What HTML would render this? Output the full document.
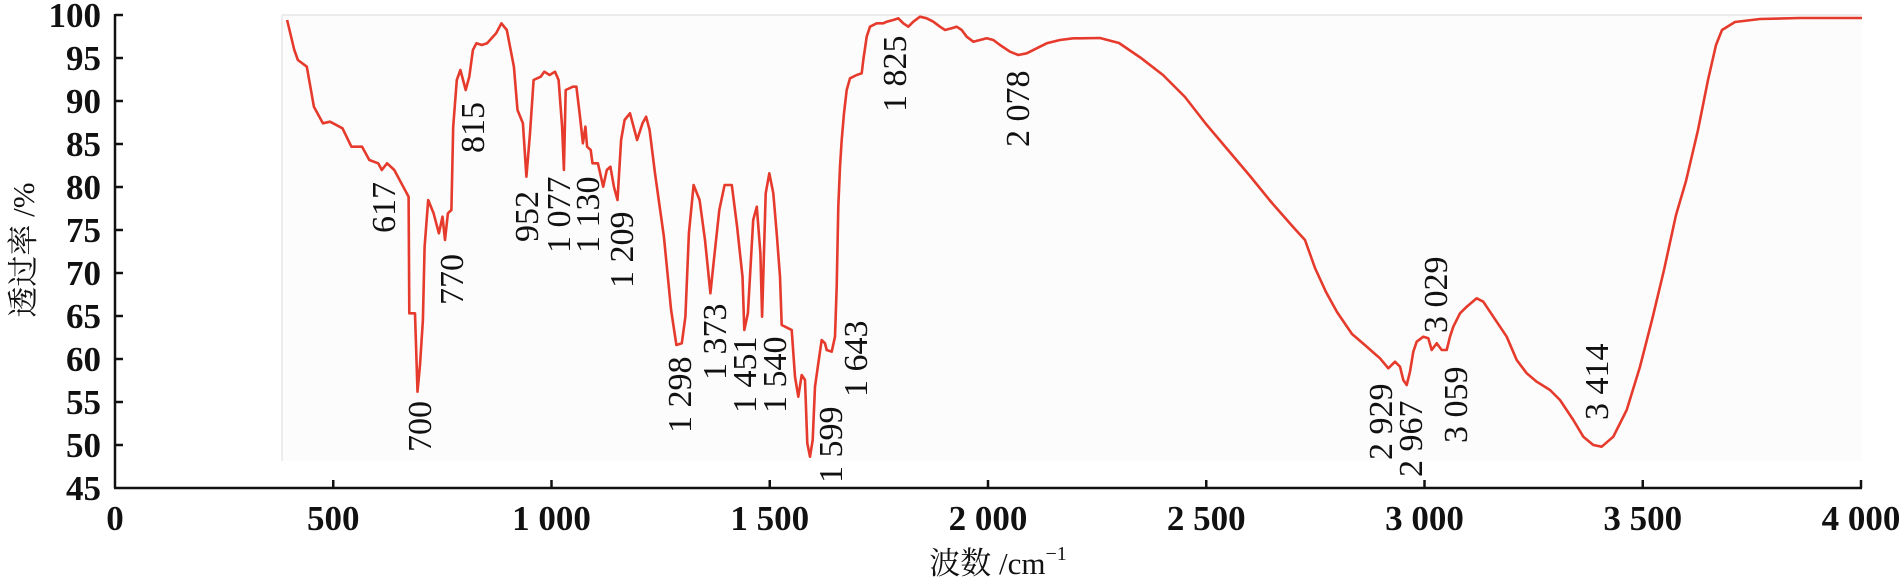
<!DOCTYPE html>
<html><head><meta charset="utf-8"><style>
html,body{margin:0;padding:0;background:#fff;}
svg{display:block;}
.tk{font-family:"Liberation Serif",serif;font-weight:bold;font-size:35px;fill:#111;}
.pk{font-family:"Liberation Serif",serif;font-size:34px;fill:#111;}
.tt{font-family:"Liberation Serif","Noto Serif CJK SC",serif;font-size:31px;fill:#111;}
</style></head><body>
<svg id="s" width="1904" height="584" viewBox="0 0 1904 584" xmlns="http://www.w3.org/2000/svg">
<rect x="282" y="15" width="1580" height="446" fill="#fcfcfc"/>
<line x1="282" y1="15" x2="1862" y2="15" stroke="#ececec" stroke-width="2"/>
<line x1="282" y1="15" x2="282" y2="461" stroke="#ececec" stroke-width="2"/>
<g id="axes" stroke="#111" stroke-width="2.5" fill="none">
<line x1="115" y1="14" x2="115" y2="488"/>
<line x1="114" y1="488" x2="1862" y2="488"/>
</g>
<g id="ticks"></g>
<path id="curve" fill="none" stroke="#e53a2c" stroke-width="2.6" stroke-linejoin="round"/>
<g id="labels"></g>
<text class="tt" transform="translate(34,250) rotate(-90)" text-anchor="middle">透过率 /%</text>
<text class="tt" x="998" y="574" text-anchor="middle">波数 /cm<tspan font-size="20" dy="-14">−1</tspan></text>
</svg>
<script>
var NS="http://www.w3.org/2000/svg";
function X(w){return 115+w*0.4365;}
function Y(v){return 15+(100-v)*8.6;}
var tg=document.getElementById('ticks');
function el(t,a,p,txt){var e=document.createElementNS(NS,t);for(var k in a)e.setAttribute(k,a[k]);if(txt!==undefined)e.textContent=txt;p.appendChild(e);return e;}
for(var v=45;v<=100;v+=5){var y=Y(v);if(v>45)el('line',{x1:115,y1:y,x2:123,y2:y,stroke:'#111','stroke-width':2.5},tg);
 el('text',{x:101,y:y+12,'class':'tk','text-anchor':'end'},tg,String(v));}
var xl=['0','500','1 000','1 500','2 000','2 500','3 000','3 500','4 000'];
for(var i=0;i<=8;i++){var x=X(i*500);if(i>0)el('line',{x1:x,y1:488,x2:x,y2:480,stroke:'#111','stroke-width':2.5},tg);
 el('text',{x:x,y:530,'class':'tk','text-anchor':'middle'},tg,xl[i]);}
var pts=[];
var z3=[[20,60],[40,150],[50,180],[75,200],[95,320],[120,370],[140,365],[175,385],[200,440],[230,440],[250,480],[275,490],[285,510],[300,490],[320,510],[345,560],[360,590],[362,940],[378,940],[385,1175],[392,1095],[400,960],[405,740],[415,600],[430,640],[445,700],[455,650],[462,720],[470,640],[480,630],[485,380],[495,240],[505,210],[520,270],[530,230],[540,150],[550,130],[565,135],[580,130],[605,100],[620,70],[635,90],[655,200],[665,330],[680,370],[690,530],[700,400],[710,240],[730,230],[740,215],[755,225],[770,215],[780,240],[790,380],[795,510],[800,270],[820,260],[830,260],[840,350],[848,430],[855,380],[860,440],[870,450],[875,490],[890,490],[905,560],[915,510],[925,500],[935,560],[945,600],[955,420],[965,360],[980,340],[1000,420],[1015,370],[1025,350],[1035,390],[1050,520],[1075,710],[1095,930],[1110,1035],[1125,1030],[1135,950],[1145,700],[1158,555],[1175,600],[1190,720],[1205,880],[1215,780],[1230,630],[1245,555],[1265,555],[1280,680],[1295,830],[1300,990],[1310,940],[1325,660],[1335,620],[1345,760],[1350,950],[1360,580],[1370,520]];
z3.forEach(function(p){pts.push([280+p[0]/2.8,p[1]/3]);});
var z4=[[400,580],[410,700],[420,830],[425,975],[445,985],[455,990],[465,1130],[475,1190],[485,1125],[495,1140],[502,1330],[510,1370],[518,1320],[525,1160],[535,1090],[545,1020],[555,1030],[560,1050],[575,1055],[585,1010],[590,860],[595,620],[600,500],[605,420],[612,340],[620,270],[630,235],[650,225],[665,220],[670,180],[680,110],[690,80],[710,70],[730,70],[740,65],[760,60],[775,55],[790,70],[805,80],[820,65],[840,50],[860,55],[880,65],[900,80],[915,90],[935,85],[950,80],[965,90],[980,110],[1000,125],[1020,120],[1040,115],[1060,120],[1080,135],[1110,155],[1135,165],[1160,160],[1190,145],[1220,130],[1260,120],[1300,115],[1320,115]];
z4.forEach(function(p){pts.push([640+p[0]/3,p[1]/3]);});
[[1100,38],[1119,43],[1141,58],[1163,75],[1185,97],[1206,124],[1228,150],[1250,176],[1272,203],[1294,228],[1305,240],[1315,268],[1326,292],[1337,312],[1352,334],[1366,346],[1375,354]].forEach(function(p){pts.push(p);});
var z8=[[0,175],[25,205],[45,185],[60,200],[70,240],[80,255],[90,215],[100,155],[110,125],[130,110],[145,115],[155,150],[170,130],[185,150],[200,150],[210,110],[220,80],[240,40],[260,20],[290,-5],[310,5],[340,50],[380,110],[410,180],[440,220],[470,245],[510,270],[540,300],[580,360],[610,410],[640,435],[665,440],[700,410],[740,330],[780,200]];
z8.forEach(function(p){pts.push([1380+p[0]/3,300+p[1]/3]);});
[[1652,320],[1664,270],[1676,215],[1686,181],[1698,130],[1708,80],[1716,45],[1722,30],[1735,22],[1760,19],[1800,18],[1862,18]].forEach(function(p){pts.push(p);});
var d='M'+pts.map(function(p){return p[0].toFixed(1)+','+p[1].toFixed(1);}).join(' L');
document.getElementById('curve').setAttribute('d',d);
var lg=document.getElementById('labels');
var L=[['617',395,233],['700',431,452],['770',463,305],['815',484,153],['952',538,242],['1 077',570,253],['1 130',599,253],['1 209',633,288],['1 298',691,433],['1 373',726,380],['1 451',756,413],['1 540',786,413],['1 599',842,483],['1 643',867,397],['1 825',906,112],['2 078',1029,147],['2 929',1392,460],['2 967',1422,477],['3 029',1447,333],['3 059',1467,443],['3 414',1608,420]];
L.forEach(function(l){el('text',{'class':'pk',transform:'translate('+l[1]+','+l[2]+') rotate(-90)'},lg,l[0]);});
</script>
</body></html>
